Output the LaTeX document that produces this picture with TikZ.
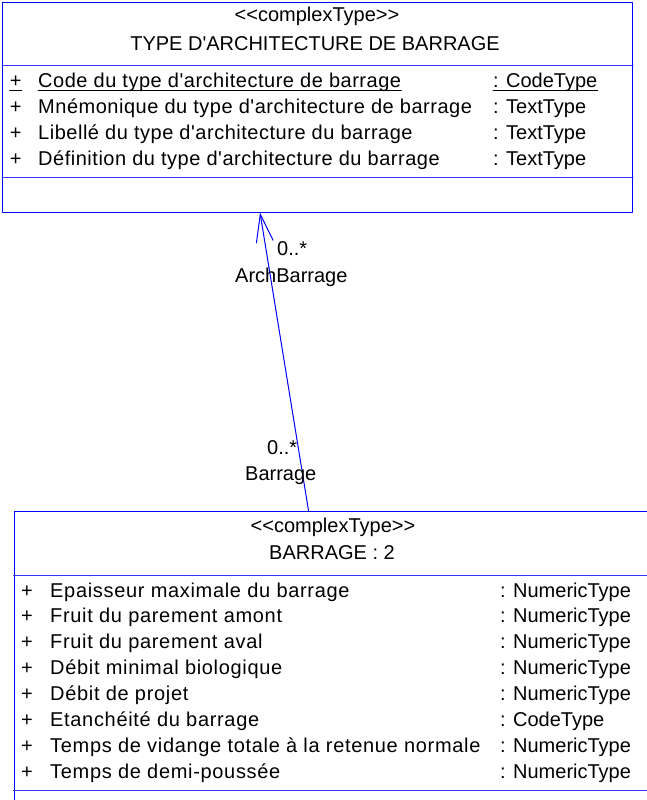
\documentclass[tikz,border=0pt]{standalone}
\usepackage{fontspec}
\newfontfamily\umlfont{Liberation Sans}
\newfontfamily\umlattrfont{Liberation Sans}[LetterSpace=2.6]
\newfontfamily\umlwidefont{Liberation Sans}[LetterSpace=3.4]
\usetikzlibrary{arrows.meta}
\tikzset{
  umlbox/.style={draw=blue,line width=1pt,inner sep=0pt},
  sepline/.style={draw=blue!80,line width=1pt},
  assoc/.style={draw=blue,line width=1pt,-{Straight Barb[length=28pt,width=17pt]}},
  txt/.style={inner sep=0pt,font=\umlfont\fontsize{20}{24}\selectfont},
  attr/.style={txt,anchor=base west,font=\umlattrfont\fontsize{20}{24}\selectfont},
  wideattr/.style={txt,anchor=base west,font=\umlwidefont\fontsize{20}{24}\selectfont},
}
\begin{document}
\begin{tikzpicture}[x=1pt,y=-1pt,line cap=round,line join=round]
  \useasboundingbox (0,0) rectangle (646,800);
  % class TYPE D'ARCHITECTURE DE BARRAGE
  \node[umlbox,minimum width=630pt,minimum height=209pt] (archtype) at (317.5,107.5) {};
  \draw[sepline] (archtype.west |- 0,66) -- (archtype.east |- 0,66);
  \draw[sepline] (archtype.west |- 0,177) -- (archtype.east |- 0,177);
  \node[txt,anchor=base] (archstereo) at (317,22) {<<complexType>>};
  \node[txt,anchor=base] (archname) at (315,51) {TYPE D'ARCHITECTURE DE BARRAGE};
  \node[txt,anchor=base] (archplus0) at (15.6,88) {+};
  \node[attr] (archattr0) at (38,88) {Code du type d'architecture de barrage};
  \node[txt,anchor=base west] (archtype0) at (493,88) {: CodeType};
  \foreach \n in {archplus0,archattr0,archtype0}
    \draw[line width=0.9pt] ([yshift=-2pt]\n.base west) -- ([yshift=-2pt]\n.base east);
  \foreach \nm/\ty [count=\i] in {{Mnémonique du type d'architecture de barrage}/TextType,
      {Libellé du type d'architecture du barrage}/TextType,
      {Définition du type d'architecture du barrage}/TextType}{
    \node[txt,anchor=base] (archplus\i) at (15.6,88+25.7*\i) {+};
    \node[attr] (archattr\i) at (38,88+25.7*\i) {\nm};
    \node[txt,anchor=base west] (archtype\i) at (493,88+25.7*\i) {: \ty};
  }
  % class BARRAGE : 2
  \node[umlbox,minimum width=636pt,minimum height=300pt] (barrage) at (332,661) {};
  \draw[sepline] (barrage.west |- 0,575) -- (barrage.east |- 0,575);
  \draw[sepline] (barrage.west |- 0,790) -- (barrage.east |- 0,790);
  \node[txt,anchor=base] (barrstereo) at (333,532) {<<complexType>>};
  \node[txt,anchor=base] (barrname) at (332,559) {BARRAGE : 2};
  \foreach \nm/\ty [count=\i from 0] in {{Epaisseur maximale du barrage}/NumericType,
      {Fruit du parement amont}/NumericType,
      {Fruit du parement aval}/NumericType,
      {Débit minimal biologique}/NumericType,
      {Débit de projet}/NumericType,
      {Etanchéité du barrage}/CodeType,
      {Temps de vidange totale à la retenue normale}/NumericType,
      {Temps de demi-poussée}/NumericType}{
    \node[txt,anchor=base] (barrplus\i) at (27,597+25.9*\i) {+};
    \node[wideattr] (barrattr\i) at (50,597+25.9*\i) {\nm};
    \node[txt,anchor=base west] (barrtype\i) at (500,597+25.9*\i) {: \ty};
  }
  % association
  \coordinate (assocend) at ([xshift=258pt]archtype.south west);
  \coordinate (assocstart) at ([xshift=295pt]barrage.north west);
  \draw[assoc] (assocstart) -- (assocend);
  \node[txt,anchor=base west] (archmult) at (277,255) {0..*};
  \node[txt,anchor=base west] (archrole) at (235,282) {ArchBarrage};
  \node[txt,anchor=base west] (barrmult) at (267,454) {0..*};
  \node[txt,anchor=base west] (barrrole) at (245,480) {Barrage};
\end{tikzpicture}
\end{document}
